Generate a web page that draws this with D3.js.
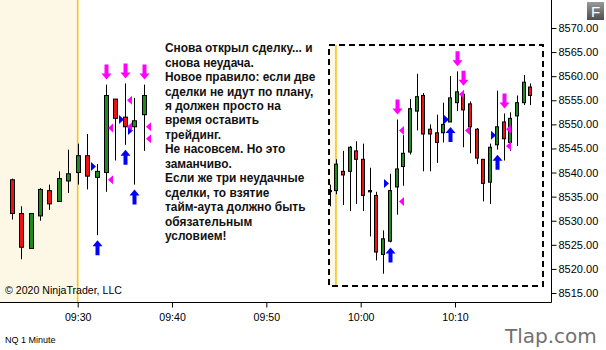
<!DOCTYPE html>
<html><head><meta charset="utf-8">
<script src="https://cdn.jsdelivr.net/npm/d3@7"></script>
<style>html,body{margin:0;padding:0;background:#fff;}svg{display:block;}</style>
</head><body>
<script>
// ---------- DATA ----------
const leftTimes = ["09:23","09:24","09:25","09:26","09:27","09:28","09:29","09:30","09:31","09:32","09:33","09:34","09:35","09:36","09:37"];
const leftOpen  = [8538.5,8531.5,8524.25,8531,8536.25,8534,8538.25,8540,8543.5,8539,8540,8555.25,8551.5,8549.5,8552];
const leftHigh  = [8538.75,8533,8531.5,8536.75,8537.5,8540.25,8544.75,8546,8548,8541.75,8558.25,8555.25,8558.5,8555.5,8558.25];
const leftLow   = [8530.25,8522,8524.25,8530,8532.25,8534,8535.75,8537.5,8536.5,8527,8536,8542.5,8545.75,8537.5,8544.5];
const leftClose = [8531.5,8524.5,8531.5,8536.5,8533.5,8538.75,8539.75,8543.5,8539.25,8540.25,8556,8551.25,8549.5,8550.75,8556];

const leftExitArrowIdx  = [10,12,14];
const leftEntryArrowIdx = [9,12,13];
const leftEntryMarkIdx   = [9,12,13];
const leftEntryMarkPrice = [8541.25,8551,8548.75];
const leftExitMarkIdx    = [10,10,12,12,14,14];
const leftExitMarkPrice  = [8549.25,8538.5,8555,8549.5,8549.5,8547];

const rightOpen  = [8536.25,8536.25,8540.25,8540.25,8544.5,8542.75,8536.25,8535.25,8523,8525.75,8537,8541.25,8544.25,8552.75,8556,8549,8548.25,8548.25,8550.5,8554.5,8556.25,8554.25,8549,8542.75,8538,8545.75,8550.5,8546.25,8551.75,8554.5,8557.75];
const rightHigh  = [8537.5,8542.75,8544.5,8545.5,8546.5,8546,8541,8536,8528,8539.75,8551,8547.75,8555.25,8560.5,8556.5,8550,8552,8554.5,8560,8561,8557,8554.75,8549.25,8542.75,8546,8557,8552.25,8552.5,8556,8560.25,8558.5];
const rightLow   = [8533,8535.5,8533.25,8532,8533.5,8532,8526.75,8521.75,8519,8525.5,8531.25,8537.25,8543.75,8548.75,8540.25,8540.25,8542,8546.25,8550.5,8552.75,8545.25,8544,8541.75,8534,8533.5,8544.75,8542.5,8544.5,8545.5,8554,8554];
const rightClose = [8536.25,8541.75,8539.5,8545.25,8542.75,8535.25,8536,8523.5,8526.25,8536.25,8540.75,8544,8553.25,8555.75,8548,8548,8546.25,8550,8555.5,8556.75,8553,8549.5,8543,8537.75,8545.25,8549.5,8547,8551.25,8554.5,8558.75,8556];

const rightExitArrowIdx  = [10,19,20,26];
const rightEntryArrowIdx = [9,18,25];
const rightEntryMarkIdx   = [9,18,25];
const rightEntryMarkPrice = [8537.75,8551,8547.75];
const rightExitMarkIdx    = [10,10,19,20,26,26];
const rightExitMarkPrice  = [8548.75,8534,8556.25,8548.75,8549,8545.5];

const priceTicks = [8515,8520,8525,8530,8535,8540,8545,8550,8555,8560,8565,8570];
const timeTickLabels = ["09:30","09:40","09:50","10:00","10:10"];

const noteLines = [
 "Снова открыл сделку... и","снова неудача.","Новое правило: если две","сделки не идут по плану,",
 "я должен просто на","время оставить","трейдинг.","Не насовсем. Но это","заманчиво.",
 "Если же три неудачные","сделки, то взятие","тайм-аута должно быть","обязательным","условием!"];

// ---------- LAYOUT ----------
const W=606,H=350, plotR=551, plotB=302;
const FONT="Arial, 'Liberation Sans', sans-serif";
const parseT = d3.timeParse("%H:%M");
const x = d3.scaleTime().domain([parseT("09:30"),parseT("10:10")]).range([77.7,455]);
const y = d3.scaleLinear().domain([8515,8570]).range([293,28]);
const box = {x0:329, y0:45, x1:543, y1:286};
const xr = d3.scaleLinear().domain([0,30]).range([329.6,530.3]);

const svg = d3.select("body").append("svg").attr("width",W).attr("height",H);

// pre-market shading
const sessX = x(parseT("09:30"));
svg.append("rect").attr("x",0).attr("y",0).attr("width",sessX).attr("height",plotB).attr("fill","#fdf8e5");
svg.append("line").attr("x1",sessX).attr("x2",sessX).attr("y1",0).attr("y2",plotB).attr("stroke","#f5c518").attr("stroke-width",1.6);

// right panel shading
const rp = svg.append("g");
rp.append("rect").attr("x",box.x0).attr("y",box.y0).attr("width",xr(0.95)-box.x0).attr("height",box.y1-box.y0).attr("fill","#fdf8e5");
rp.append("line").attr("x1",xr(0.95)).attr("x2",xr(0.95)).attr("y1",box.y0).attr("y2",box.y1).attr("stroke","#f5c518").attr("stroke-width",1.6);

function drawCandles(g, n, xf, O,Hh,L,C, bw){
  for(let i=0;i<n;i++){
    const cx=Math.round(xf(i));
    const up = C[i]>=O[i];
    g.append("line").attr("x1",cx+0.5).attr("x2",cx+0.5).attr("y1",y(Hh[i])).attr("y2",y(L[i])).attr("stroke","#000").attr("stroke-width",1);
    const top=y(Math.max(O[i],C[i])), bot=y(Math.min(O[i],C[i]));
    g.append("rect").attr("x",cx-Math.floor(bw/2)+0.5).attr("y",top).attr("width",bw-1).attr("height",Math.max(1,bot-top))
      .attr("fill",up?"#1f8a1f":"#ee1111").attr("stroke","#000").attr("stroke-width",1);
  }
}
function downArrow(g,cx,tip,col){
  const hw=5, sw=2, hh=6, len=15;
  g.append("path").attr("d",`M${cx-sw},${tip-len} L${cx+sw},${tip-len} L${cx+sw},${tip-hh} L${cx+hw},${tip-hh} L${cx},${tip} L${cx-hw},${tip-hh} L${cx-sw},${tip-hh} Z`).attr("fill",col);
}
function upArrow(g,cx,tip,col){
  const hw=5, sw=2, hh=6, len=15;
  g.append("path").attr("d",`M${cx-sw},${tip+len} L${cx+sw},${tip+len} L${cx+sw},${tip+hh} L${cx+hw},${tip+hh} L${cx},${tip} L${cx-hw},${tip+hh} L${cx-sw},${tip+hh} Z`).attr("fill",col);
}
function rightTri(g,cx,py,col){ // pointing right, left of candle
  g.append("path").attr("d",`M${cx-6.5},${py-4.5} L${cx-1.5},${py} L${cx-6.5},${py+4.5} Z`).attr("fill",col);
}
function leftTri(g,cx,py,col){ // pointing left, right of candle
  g.append("path").attr("d",`M${cx+6.5},${py-4.5} L${cx+1.5},${py} L${cx+6.5},${py+4.5} Z`).attr("fill",col);
}
const PINK="#ff00ff", BLUE="#0000ff";

// left candles
const gl = svg.append("g");
const xl = i => x(parseT(leftTimes[i]));
drawCandles(gl, leftTimes.length, xl, leftOpen,leftHigh,leftLow,leftClose, 5);
leftExitArrowIdx.forEach(i=>downArrow(gl,Math.round(xl(i))+0.5,y(leftHigh[i])-5,PINK));
leftEntryArrowIdx.forEach(i=>upArrow(gl,Math.round(xl(i))+0.5,y(leftLow[i])+5,BLUE));
leftEntryMarkIdx.forEach((i,k)=>rightTri(gl,Math.round(xl(i))+0.5,y(leftEntryMarkPrice[k]),BLUE));
leftExitMarkIdx.forEach((i,k)=>leftTri(gl,Math.round(xl(i))+0.5,y(leftExitMarkPrice[k]),PINK));

// right candles (clipped to box)
svg.append("clipPath").attr("id","bx").append("rect").attr("x",box.x0+1).attr("y",box.y0).attr("width",box.x1-box.x0-1).attr("height",box.y1-box.y0);
const gr = svg.append("g").attr("clip-path","url(#bx)");
drawCandles(gr, rightOpen.length, xr, rightOpen,rightHigh,rightLow,rightClose, 4);
rightExitArrowIdx.forEach(i=>downArrow(gr,Math.round(xr(i))+0.5,y(rightHigh[i])-5,PINK));
rightEntryArrowIdx.forEach(i=>upArrow(gr,Math.round(xr(i))+0.5,y(rightLow[i])+5,BLUE));
rightEntryMarkIdx.forEach((i,k)=>rightTri(gr,Math.round(xr(i))+0.5,y(rightEntryMarkPrice[k]),BLUE));
rightExitMarkIdx.forEach((i,k)=>leftTri(gr,Math.round(xr(i))+0.5,y(rightExitMarkPrice[k]),PINK));

// dashed box
svg.append("rect").attr("x",box.x0).attr("y",box.y0).attr("width",box.x1-box.x0).attr("height",box.y1-box.y0)
  .attr("fill","none").attr("stroke","#000").attr("stroke-width",2).attr("stroke-dasharray","6,4");

// note text
const nt = svg.append("text").attr("x",165).attr("font-family",FONT).attr("font-weight","bold").attr("font-size","11.9px").attr("fill","#111");
noteLines.forEach((s,i)=>nt.append("tspan").attr("x",165).attr("y",48+i*14.46).attr("dy","0.35em").text(s));

// axes
svg.append("line").attr("x1",plotR+0.5).attr("x2",plotR+0.5).attr("y1",0).attr("y2",plotB+0.5).attr("stroke","#000");
svg.append("line").attr("x1",0).attr("x2",plotR+0.5).attr("y1",plotB+0.5).attr("y2",plotB+0.5).attr("stroke","#000");
const ya = svg.append("g").attr("transform",`translate(${plotR+0.5},0)`)
  .call(d3.axisRight(y).tickValues(priceTicks).tickFormat(d3.format(".2f")).tickSize(5).tickPadding(2));
ya.select(".domain").remove();
ya.selectAll("text").attr("font-family",FONT).attr("font-size","11px").attr("fill","#000");
const xa = svg.append("g").attr("transform",`translate(0,${plotB+0.5})`)
  .call(d3.axisBottom(x).tickValues(timeTickLabels.map(parseT)).tickFormat(d3.timeFormat("%H:%M")).tickSize(5).tickPadding(6));
xa.select(".domain").remove();
xa.selectAll("text").attr("font-family",FONT).attr("font-size","10.6px").attr("fill","#000");

// footer texts
svg.append("text").attr("x",5).attr("y",294).attr("font-family",FONT).attr("font-size","10.6px").attr("fill","#000").text("© 2020 NinjaTrader, LLC");
svg.append("text").attr("x",5).attr("y",343).attr("font-family",FONT).attr("font-size","9px").attr("fill","#000").text("NQ 1 Minute");
svg.append("text").attr("x",505).attr("y",343).attr("font-family","'DejaVu Sans', Verdana, sans-serif").attr("font-size","20px").attr("fill","#707070").text("Tlap.com");

// F button
const grad = svg.append("defs").append("linearGradient").attr("id","fg").attr("x1",0).attr("y1",0).attr("x2",0).attr("y2",1);
grad.append("stop").attr("offset","0").attr("stop-color","#9a9a9a");
grad.append("stop").attr("offset","1").attr("stop-color","#4e4e4e");
svg.append("rect").attr("x",587).attr("y",2).attr("width",17).attr("height",18).attr("fill","url(#fg)");
svg.append("text").attr("x",595.5).attr("y",16.5).attr("text-anchor","middle").attr("font-family",FONT).attr("font-size","15px").attr("fill","#fff").text("F");
</script>
</body></html>
